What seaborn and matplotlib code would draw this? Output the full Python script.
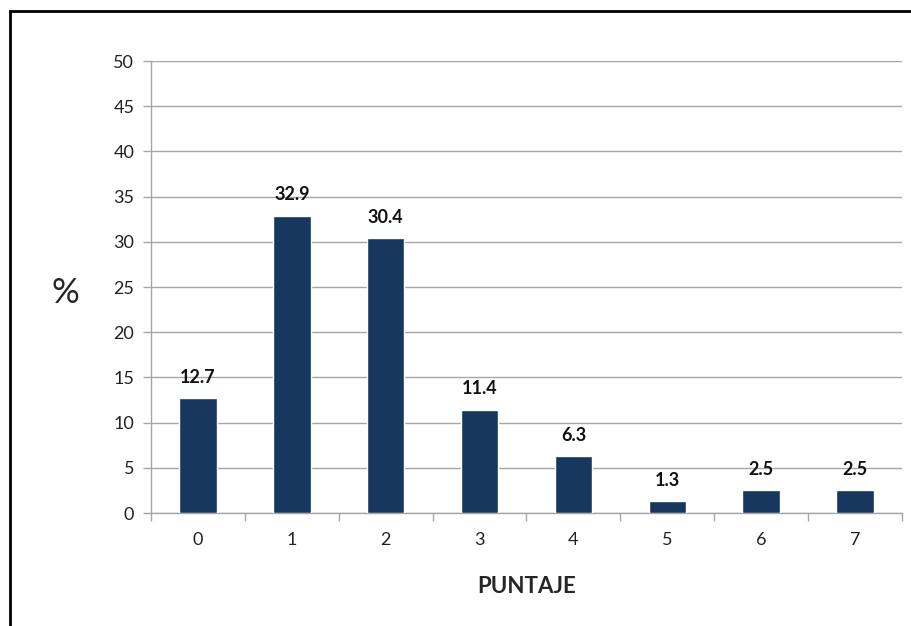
import matplotlib
matplotlib.use("Agg")
import matplotlib.pyplot as plt
import seaborn as sns
import pandas as pd
import numpy as np
from matplotlib.patches import Rectangle

categories = ["0", "1", "2", "3", "4", "5", "6", "7"]
values = [12.7, 32.9, 30.4, 11.4, 6.3, 1.3, 2.5, 2.5]
y_ticks = [0, 5, 10, 15, 20, 25, 30, 35, 40, 45, 50]

sns.set_theme(style="white")
plt.rcParams['font.family'] = ['Lato', 'DejaVu Sans']

df = pd.DataFrame({"puntaje": categories, "pct": values})

fig = plt.figure(figsize=(9.12, 6.26), dpi=100)
ax = fig.add_axes([151/912, 1-513/626, (902-151)/912, (513-61)/626])

sns.barplot(data=df, x="puntaje", y="pct", color="#17375E", width=0.4,
            saturation=1, ax=ax, zorder=3)

ax.set_ylim(0, 50)
ax.set_xlim(-0.5, len(categories) - 0.5)
ax.set_yticks(y_ticks)
ax.yaxis.grid(True, color="#A6A6A6", linewidth=1, zorder=0)
ax.set_axisbelow(True)

for s in ["top", "right"]:
    ax.spines[s].set_visible(False)
for s in ["left", "bottom"]:
    ax.spines[s].set_color("#A6A6A6")
    ax.spines[s].set_linewidth(1)

ax.tick_params(axis="y", which="major", length=6, color="#A6A6A6", width=1,
               left=True, labelsize=13, labelcolor="#222222", pad=6)
ax.tick_params(axis="x", which="major", length=0, labelsize=13,
               labelcolor="#222222", pad=14)
ax.set_xticks(np.arange(-0.5, len(categories)), minor=True)
ax.tick_params(axis="x", which="minor", length=6, color="#A6A6A6", width=1,
               bottom=True)

ax.set_xlabel("PUNTAJE", fontsize=16, fontweight="bold", labelpad=20)
ax.set_ylabel("")
fig.text(65/912, 1-293/626, "%", fontsize=25, ha="center", va="center")

for i, v in enumerate(values):
    ax.annotate(f"{v:.1f}", (i, v), xytext=(0, 9), textcoords="offset points",
                ha="center", va="bottom", fontsize=13, fontweight="bold",
                color="#111111")

frame = Rectangle((10/912, -0.05), 1.2, 1 - 11/626 + 0.05,
                  transform=fig.transFigure, fill=False, edgecolor="black",
                  linewidth=2, clip_on=False)
fig.patches.append(frame)

fig.savefig("out.png", dpi=100)
